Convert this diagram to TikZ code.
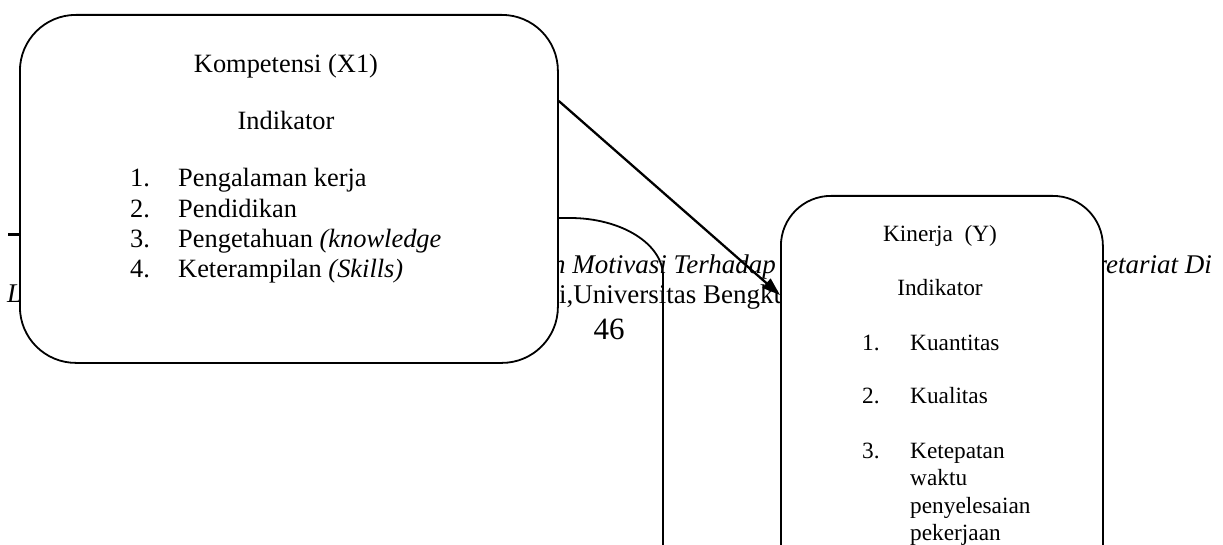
\documentclass[tikz,border=0pt]{standalone}
\usepackage{fontspec}
\setmainfont{Liberation Serif}
\usetikzlibrary{arrows.meta,calc}
\begin{document}
\begin{tikzpicture}[x=1pt,y=-1pt,
  box/.style={draw, line width=1.8pt, fill=white, inner sep=0pt},
  txt/.style={inner sep=0pt, font=\fontsize{26.4}{30}\selectfont},
  ktxt/.style={inner sep=0pt, font=\fontsize{23.3}{27}\selectfont},
  ftxt/.style={inner sep=0pt, font=\fontsize{27}{30}\selectfont},
  ftxti/.style={inner sep=0pt, font=\fontsize{27}{30}\selectfont\itshape},
  edge/.style={line width=1.8pt}]
\useasboundingbox (0,0) rectangle (1223,545);
\clip (0,0) rectangle (1223,545);
% footer text behind the boxes
\node[ftxti, anchor=base west] (f1) at (552,273) {n Motivasi Terhadap};
\node[ftxti, anchor=base east] (f2) at (1212,273) {retariat Di};
\node[ftxti, anchor=base west] (f3) at (7,302) {L};
\node[ftxt, anchor=base west] (f4) at (559,303) {i,Universitas Bengku};
\node[inner sep=0pt, font=\fontsize{31}{33}\selectfont, anchor=base] (pg) at (609,339) {46};
\draw[line width=3pt] (8,235) -- (19,235);
% partly visible third box
\draw[edge] (540,218) -- (570,218) arc[start angle=90,end angle=0,x radius=93pt,y radius=58pt] -- (663,560);
% Kompetensi box
\node[box, rounded corners=56pt, minimum width=538pt, minimum height=348pt, anchor=north west] (komp) at (19,14) {};
\node[txt, anchor=base] (k1) at (286,73) {Kompetensi (X1)};
\node[txt, anchor=base] (k2) at (286,130) {Indikator};
\node[txt, anchor=base west] (kn1) at (130,187) {1.};
\node[txt, anchor=base west] (kt1) at (178,187) {Pengalaman kerja};
\node[txt, anchor=base west] (kn2) at (130,218) {2.};
\node[txt, anchor=base west] (kt2) at (178,218) {Pendidikan};
\node[txt, anchor=base west] (kn3) at (130,248) {3.};
\node[txt, anchor=base west] (kt3) at (178,248) {Pengetahuan \textit{(knowledge}};
\node[txt, anchor=base west] (kn4) at (130,278) {4.};
\node[txt, anchor=base west] (kt4) at (178,278) {Keterampilan \textit{(Skills)}};
% Kinerja box
\node[box, rounded corners=50pt, minimum width=322pt, minimum height=450pt, anchor=north west] (kin) at (780,195) {};
\node[ktxt, anchor=base] (y1) at (940,242) {Kinerja\ \ (Y)};
\node[ktxt, anchor=base] (y2) at (940,295) {Indikator};
\node[ktxt, anchor=base west] (yn1) at (862,350) {1.};
\node[ktxt, anchor=base west] (yt1) at (910,350) {Kuantitas};
\node[ktxt, anchor=base west] (yn2) at (862,403) {2.};
\node[ktxt, anchor=base west] (yt2) at (910,403) {Kualitas};
\node[ktxt, anchor=base west] (yn3) at (862,458) {3.};
\node[ktxt, anchor=base west] (yt3) at (910,458) {Ketepatan};
\node[ktxt, anchor=base west] (yt4) at (910,485) {waktu};
\node[ktxt, anchor=base west] (yt5) at (910,513) {penyelesaian};
\node[ktxt, anchor=base west] (yt6) at (910,540) {pekerjaan};
% arrow
\draw[line width=2.3pt, -{Triangle[length=18pt,width=12pt]}] ($(komp.north east)+(0,87)$) -- ($(kin.north west)+(0,100)$);
\end{tikzpicture}
\end{document}
